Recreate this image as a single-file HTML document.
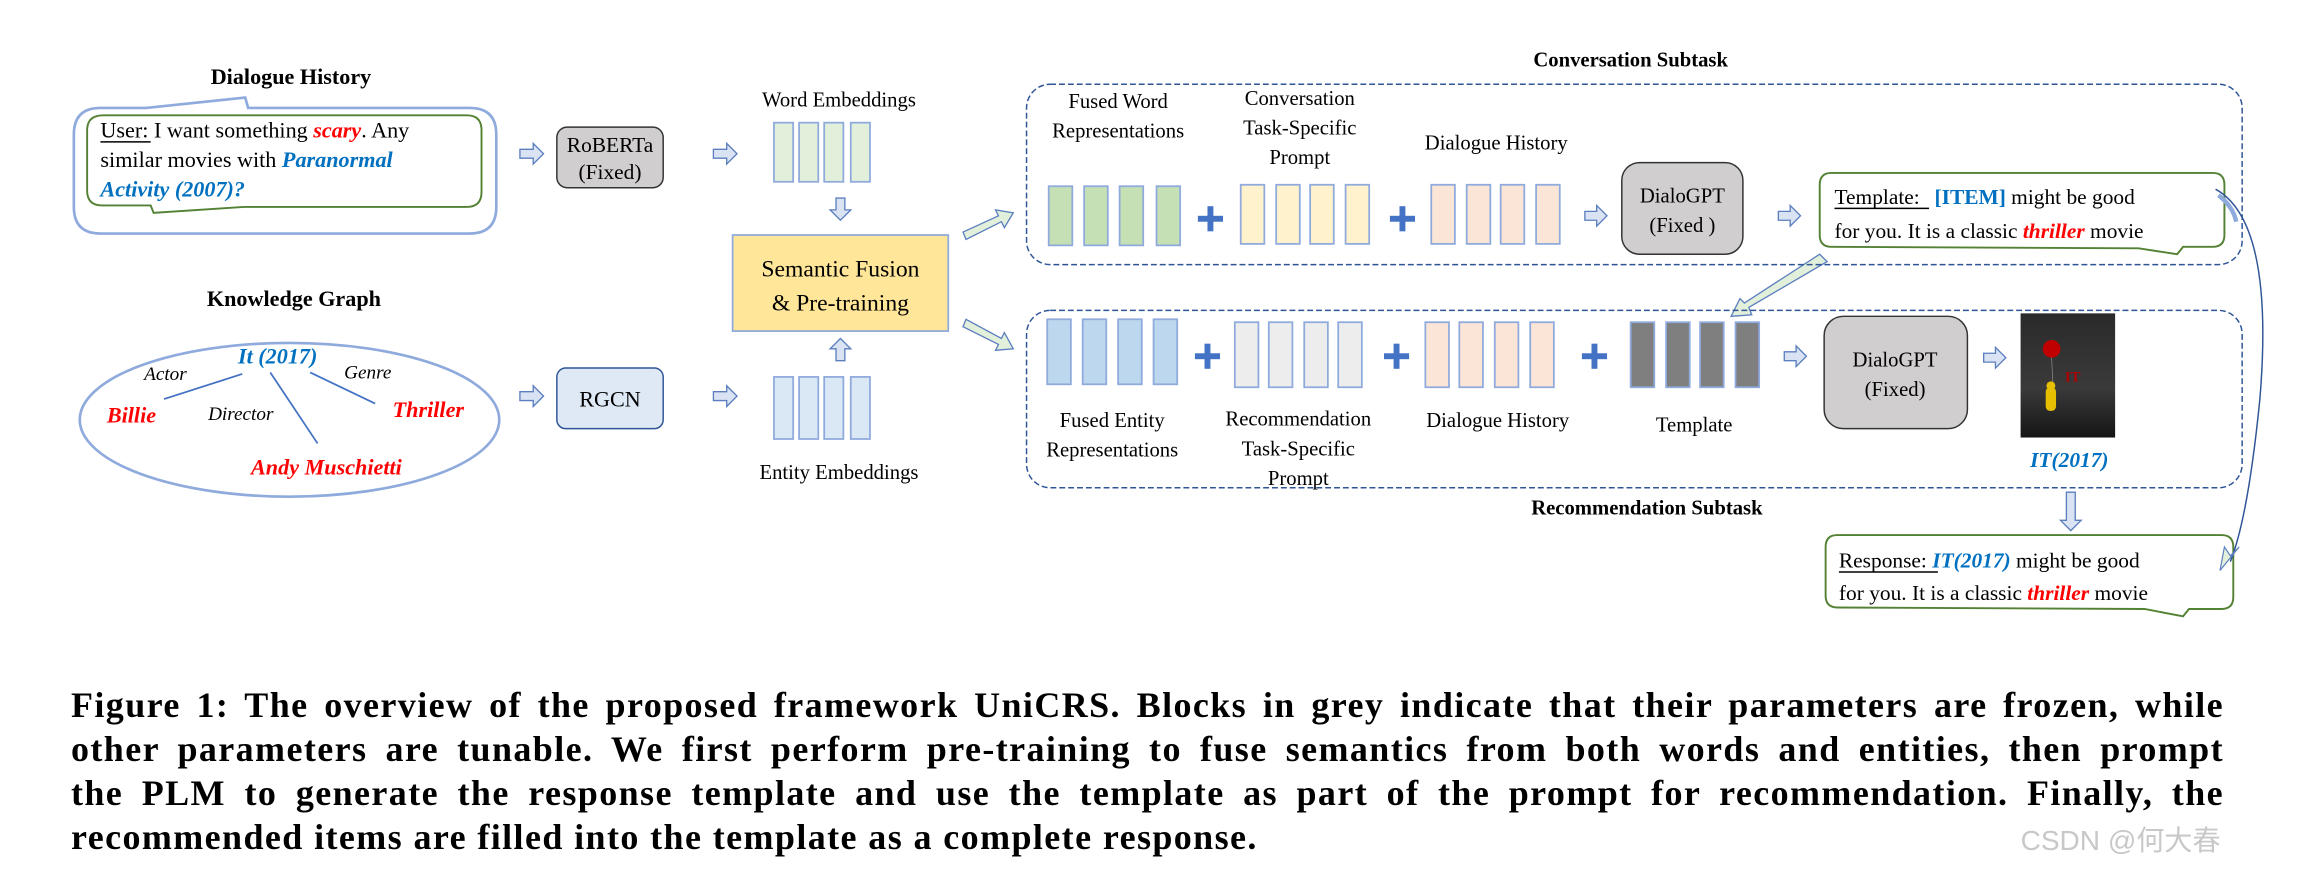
<!DOCTYPE html>
<html><head><meta charset="utf-8"><style>
html,body{margin:0;padding:0;background:#fff;}
svg{display:block;}
text{font-family:"Liberation Serif",serif;}
.cap{position:absolute;left:71px;width:2153px;font-family:"Liberation Serif",serif;font-weight:bold;font-size:36px;letter-spacing:1.4px;line-height:44px;height:44px;text-align:justify;text-align-last:justify;white-space:nowrap;color:#000;}
.cap.last{text-align:left;text-align-last:left;}
</style></head><body>
<svg width="2316" height="878" viewBox="0 0 1568 594" preserveAspectRatio="none" xmlns="http://www.w3.org/2000/svg">
<defs>
<linearGradient id="pg" x1="0" y1="0" x2="0" y2="1"><stop offset="0" stop-color="#2a2a2a"/><stop offset="0.6" stop-color="#3a3a3a"/><stop offset="1" stop-color="#151515"/></linearGradient>
</defs>
<rect width="1568" height="594" fill="#fff"/>

<text x="197" y="57" font-size="15" font-weight="bold" text-anchor="middle">Dialogue History</text>
<path d="M68,73 L99,73 L166,66 L168,73 L318,73 Q336,73 336,91 L336,140 Q336,158 318,158 L68,158 Q50,158 50,140 L50,91 Q50,73 68,73 Z" fill="none" stroke="#8faadc" stroke-width="1.8"/>
<path d="M70,78 L316,78 Q326,78 326,88 L326,130 Q326,140 316,140 L165,140 L104,144 L102,139 L69,139 Q59,139 59,129 L59,88 Q59,78 70,78 Z" fill="#fff" stroke="#548235" stroke-width="1.3"/>
<text x="68" y="93" font-size="15">User:<tspan> I want something </tspan><tspan fill="#ff0000" font-weight="bold" font-style="italic">scary</tspan>. Any</text>
<line x1="68" y1="96" x2="102" y2="96" stroke="#000" stroke-width="1"/>
<text x="68" y="113" font-size="15">similar movies with <tspan fill="#0070c0" font-weight="bold" font-style="italic">Paranormal</tspan></text>
<text x="68" y="133" font-size="15" fill="#0070c0" font-weight="bold" font-style="italic">Activity (2007)?</text>

<text x="199" y="207" font-size="15" font-weight="bold" text-anchor="middle">Knowledge Graph</text>
<ellipse cx="196" cy="284" rx="142" ry="52" fill="none" stroke="#8faadc" stroke-width="1.8"/>
<line x1="164" y1="253" x2="111" y2="270" stroke="#4472c4" stroke-width="1.2"/>
<line x1="183" y1="252" x2="215" y2="300" stroke="#4472c4" stroke-width="1.2"/>
<line x1="210" y1="252" x2="254" y2="273" stroke="#4472c4" stroke-width="1.2"/>
<text x="188" y="246" font-size="15" fill="#0070c0" font-weight="bold" font-style="italic" text-anchor="middle">It (2017)</text>
<text x="112" y="257" font-size="13" font-style="italic" text-anchor="middle">Actor</text>
<text x="249" y="256" font-size="13" font-style="italic" text-anchor="middle">Genre</text>
<text x="89" y="286" font-size="15" fill="#ff0000" font-weight="bold" font-style="italic" text-anchor="middle">Billie</text>
<text x="163" y="284" font-size="13" font-style="italic" text-anchor="middle">Director</text>
<text x="290" y="282" font-size="15" fill="#ff0000" font-weight="bold" font-style="italic" text-anchor="middle">Thriller</text>
<text x="221" y="321" font-size="15" fill="#ff0000" font-weight="bold" font-style="italic" text-anchor="middle">Andy Muschietti</text>

<g fill="#dae3f3" stroke="#5b7fbf" stroke-width="0.9">
<polygon points="352,101 361,101 361,97 368,104 361,111 361,107 352,107"/>
<polygon points="483,101 492,101 492,97 499,104 492,111 492,107 483,107"/>
<polygon points="352,265 361,265 361,261 368,268 361,275 361,271 352,271"/>
<polygon points="483,265 492,265 492,261 499,268 492,275 492,271 483,271"/>
<polygon points="566,134 572,134 572,142 576,142 569,149 562,142 566,142"/>
<polygon points="566,244 572,244 572,236 576,236 569,229 562,236 566,236"/>
<polygon points="1073,143 1081,143 1081,139 1088,146 1081,153 1081,149 1073,149"/>
<polygon points="1204,143 1212,143 1212,139 1219,146 1212,153 1212,149 1204,149"/>
<polygon points="1208,238 1216,238 1216,234 1223,241 1216,248 1216,244 1208,244"/>
<polygon points="1343,239 1351,239 1351,235 1358,242 1351,249 1351,245 1343,245"/>
<polygon points="1399,333 1405,333 1405,352 1409,352 1402,359 1395,352 1399,352"/>
</g>

<rect x="377" y="86" width="72" height="41" rx="7" fill="#d0cece" stroke="#333" stroke-width="1"/>
<text x="413" y="103" font-size="14.5" text-anchor="middle">RoBERTa</text>
<text x="413" y="121" font-size="14.5" text-anchor="middle">(Fixed)</text>
<rect x="377" y="249" width="72" height="41" rx="6" fill="#dee9f5" stroke="#2f5597" stroke-width="1"/>
<text x="413" y="275" font-size="15" text-anchor="middle">RGCN</text>

<text x="568" y="72" font-size="14" text-anchor="middle">Word Embeddings</text>
<g fill="#e2efda" stroke="#8faadc" stroke-width="1.2">
<rect x="524" y="83" width="13" height="40"/><rect x="541" y="83" width="13" height="40"/><rect x="558" y="83" width="13" height="40"/><rect x="576" y="83" width="13" height="40"/>
</g>
<g fill="#dae8f5" stroke="#8faadc" stroke-width="1.2">
<rect x="524" y="255" width="13" height="42"/><rect x="541" y="255" width="13" height="42"/><rect x="558" y="255" width="13" height="42"/><rect x="576" y="255" width="13" height="42"/>
</g>
<text x="568" y="324" font-size="14" text-anchor="middle">Entity Embeddings</text>

<rect x="496" y="159" width="146" height="65" fill="#ffe699" stroke="#8faadc" stroke-width="1.2"/>
<text x="569" y="187" font-size="16" text-anchor="middle">Semantic Fusion</text>
<text x="569" y="210" font-size="16" text-anchor="middle">&amp; Pre-training</text>

<g fill="#e2efda" stroke="#5b7fbf" stroke-width="0.9">
<polygon points="652,157 676,146 674,142 686,144 680,154 678,150 654,162"/>
<polygon points="654,216 678,229 680,225 686,236 674,237 676,233 652,221"/>
<polygon points="1232,172 1237,177 1184,208 1186,213 1172,214 1178,202 1181,205"/>
</g>

<text x="1104" y="45" font-size="14" font-weight="bold" text-anchor="middle">Conversation Subtask</text>
<rect x="695" y="57" width="823" height="122" rx="16" fill="none" stroke="#2f5597" stroke-width="1" stroke-dasharray="4,2"/>
<text x="757" y="73" font-size="14" text-anchor="middle">Fused Word</text>
<text x="757" y="93" font-size="14" text-anchor="middle">Representations</text>
<text x="880" y="71" font-size="14" text-anchor="middle">Conversation</text>
<text x="880" y="91" font-size="14" text-anchor="middle">Task-Specific</text>
<text x="880" y="111" font-size="14" text-anchor="middle">Prompt</text>
<text x="1013" y="101" font-size="14" text-anchor="middle">Dialogue History</text>
<g stroke="#8faadc" stroke-width="1.2">
<rect x="710" y="126" width="16" height="40" fill="#c5e0b4"/><rect x="734" y="126" width="16" height="40" fill="#c5e0b4"/><rect x="758" y="126" width="16" height="40" fill="#c5e0b4"/><rect x="783" y="126" width="16" height="40" fill="#c5e0b4"/>
<rect x="840" y="125" width="16" height="40" fill="#fff2cc"/><rect x="864" y="125" width="16" height="40" fill="#fff2cc"/><rect x="887" y="125" width="16" height="40" fill="#fff2cc"/><rect x="911" y="125" width="16" height="40" fill="#fff2cc"/>
<rect x="969" y="125" width="16" height="40" fill="#fbe5d6"/><rect x="993" y="125" width="16" height="40" fill="#fbe5d6"/><rect x="1016" y="125" width="16" height="40" fill="#fbe5d6"/><rect x="1040" y="125" width="16" height="40" fill="#fbe5d6"/>
</g>
<g fill="#4472c4">
<rect x="811" y="146" width="17" height="4"/><rect x="817.5" y="139.5" width="4" height="17"/>
<rect x="941" y="146" width="17" height="4"/><rect x="947.5" y="139.5" width="4" height="17"/>
<rect x="809" y="239" width="17" height="4"/><rect x="815.5" y="232.5" width="4" height="17"/>
<rect x="937" y="239" width="17" height="4"/><rect x="943.5" y="232.5" width="4" height="17"/>
<rect x="1071" y="239" width="17" height="4"/><rect x="1077.5" y="232.5" width="4" height="17"/>
</g>
<rect x="1098" y="110" width="82" height="62" rx="12" fill="#d0cece" stroke="#333" stroke-width="1"/>
<text x="1139" y="137" font-size="14" text-anchor="middle">DialoGPT</text>
<text x="1139" y="157" font-size="14" text-anchor="middle">(Fixed )</text>

<path d="M1240,117 L1498,117 Q1506,117 1506,125 L1506,159 Q1506,167 1498,167 L1478,167 L1474,172 L1448,168 L1240,167 Q1232,167 1232,159 L1232,125 Q1232,117 1240,117 Z" fill="#fff" stroke="#548235" stroke-width="1.3"/>
<text x="1242" y="138" font-size="14.5">Template:<tspan dx="10" fill="#0070c0" font-weight="bold">[ITEM]</tspan> might be good</text>
<line x1="1242" y1="141" x2="1306" y2="141" stroke="#000" stroke-width="1"/>
<text x="1242" y="161" font-size="14.5">for you. It is a classic <tspan fill="#ff0000" font-weight="bold" font-style="italic">thriller</tspan> movie</text>

<rect x="695" y="210" width="823" height="120" rx="16" fill="none" stroke="#2f5597" stroke-width="1" stroke-dasharray="4,2"/>
<text x="1115" y="348" font-size="14" font-weight="bold" text-anchor="middle">Recommendation Subtask</text>
<g stroke="#8faadc" stroke-width="1.2">
<rect x="709" y="216" width="16" height="44" fill="#bdd7ee"/><rect x="733" y="216" width="16" height="44" fill="#bdd7ee"/><rect x="757" y="216" width="16" height="44" fill="#bdd7ee"/><rect x="781" y="216" width="16" height="44" fill="#bdd7ee"/>
<rect x="836" y="218" width="16" height="44" fill="#ededed"/><rect x="859" y="218" width="16" height="44" fill="#ededed"/><rect x="883" y="218" width="16" height="44" fill="#ededed"/><rect x="906" y="218" width="16" height="44" fill="#ededed"/>
<rect x="965" y="218" width="16" height="44" fill="#fbe5d6"/><rect x="988" y="218" width="16" height="44" fill="#fbe5d6"/><rect x="1012" y="218" width="16" height="44" fill="#fbe5d6"/><rect x="1036" y="218" width="16" height="44" fill="#fbe5d6"/>
<rect x="1104" y="218" width="16" height="44" fill="#7f7f7f"/><rect x="1128" y="218" width="16" height="44" fill="#7f7f7f"/><rect x="1151" y="218" width="16" height="44" fill="#7f7f7f"/><rect x="1175" y="218" width="16" height="44" fill="#7f7f7f"/>
</g>
<text x="753" y="289" font-size="14" text-anchor="middle">Fused Entity</text>
<text x="753" y="309" font-size="14" text-anchor="middle">Representations</text>
<text x="879" y="288" font-size="14" text-anchor="middle">Recommendation</text>
<text x="879" y="308" font-size="14" text-anchor="middle">Task-Specific</text>
<text x="879" y="328" font-size="14" text-anchor="middle">Prompt</text>
<text x="1014" y="289" font-size="14" text-anchor="middle">Dialogue History</text>
<text x="1147" y="292" font-size="14" text-anchor="middle">Template</text>
<rect x="1235" y="214" width="97" height="76" rx="13" fill="#d0cece" stroke="#333" stroke-width="1"/>
<text x="1283" y="248" font-size="14" text-anchor="middle">DialoGPT</text>
<text x="1283" y="268" font-size="14" text-anchor="middle">(Fixed)</text>

<rect x="1368" y="212" width="64" height="84" fill="url(#pg)"/>
<circle cx="1389" cy="236" r="6" fill="#c00000"/>
<line x1="1389" y1="242" x2="1390" y2="262" stroke="#888" stroke-width="0.5"/>
<text x="1398" y="258" font-size="10" fill="#b00000" font-weight="bold">IT</text>
<rect x="1385" y="262" width="7" height="16" rx="3" fill="#e6c000"/>
<circle cx="1388.5" cy="261" r="3" fill="#e6c000"/>
<text x="1401" y="316" font-size="14.5" fill="#0070c0" font-weight="bold" font-style="italic" text-anchor="middle">IT(2017)</text>

<path d="M1244,362 L1504,362 Q1512,362 1512,370 L1512,404 Q1512,412 1504,412 L1482,412 L1478,417 L1452,412 L1244,411 Q1236,411 1236,403 L1236,370 Q1236,362 1244,362 Z" fill="#fff" stroke="#548235" stroke-width="1.3"/>
<text x="1245" y="384" font-size="14.5">Response: <tspan fill="#0070c0" font-weight="bold" font-style="italic">IT(2017)</tspan> might be good</text>
<line x1="1245" y1="387" x2="1312" y2="387" stroke="#000" stroke-width="1"/>
<text x="1245" y="406" font-size="14.5">for you. It is a classic <tspan fill="#ff0000" font-weight="bold" font-style="italic">thriller</tspan> movie</text>

<path d="M1500,128 Q1540,150 1530,270 Q1522,350 1510,380" fill="none" stroke="#2f5597" stroke-width="1"/>
<path d="M1502,132 Q1512,140 1514,150" fill="none" stroke="#8faadc" stroke-width="3"/>
<polygon points="1503,386 1506,370 1510,376 1516,370" fill="#e2efda" stroke="#5b7fbf" stroke-width="0.8"/>

<text x="1368" y="575" font-size="19" fill="#c8c8c8" style="font-family:'Liberation Sans','Noto Sans CJK SC',sans-serif">CSDN @何大春</text>
</svg>
<div class="cap" style="top:683px">Figure 1: The overview of the proposed framework UniCRS. Blocks in grey indicate that their parameters are frozen, while</div>
<div class="cap" style="top:727px">other parameters are tunable. We first perform pre-training to fuse semantics from both words and entities, then prompt</div>
<div class="cap" style="top:771px">the PLM to generate the response template and use the template as part of the prompt for recommendation. Finally, the</div>
<div class="cap last" style="top:815px">recommended items are filled into the template as a complete response.</div>
</body></html>
